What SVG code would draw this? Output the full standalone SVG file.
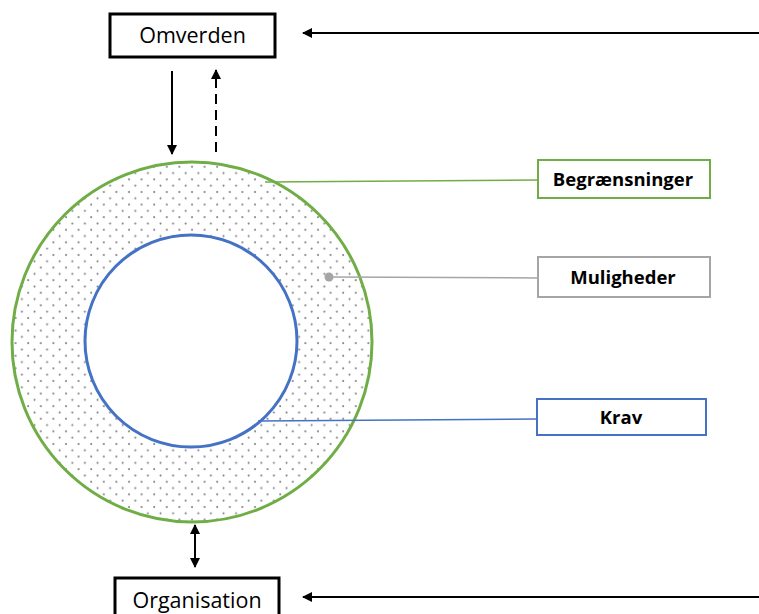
<svg xmlns="http://www.w3.org/2000/svg" width="759" height="614" viewBox="0 0 759 614">
<style>
.box{fill:#fff;stroke:#000;stroke-width:3}
.t{font-family:"Open Sans","Liberation Sans",sans-serif;font-size:21.5px;fill:#000;text-anchor:middle}
.b{font-family:"Open Sans","Liberation Sans",sans-serif;font-size:18.5px;font-weight:bold;fill:#000;text-anchor:middle}
.ln{stroke:#000;stroke-width:2;fill:none}
</style>
<defs>
<marker id="ah" viewBox="0 0 10 10" refX="9" refY="5" markerWidth="5" markerHeight="5" orient="auto-start-reverse" markerUnits="strokeWidth">
<path d="M0,0 L10,5 L0,10 z" fill="#000"/>
</marker>
<pattern id="dots" width="12.6" height="12.6" patternUnits="userSpaceOnUse">
<circle cx="3" cy="3" r="1" fill="#7a7a7a"/>
<circle cx="9.3" cy="9.3" r="1" fill="#7a7a7a"/>
</pattern>
</defs>
<g id="ring">
<circle cx="192" cy="342" r="180" fill="url(#dots)" stroke="#70AD47" stroke-width="3"/>
<circle cx="191" cy="341" r="106" fill="#fff" stroke="#4472C4" stroke-width="3"/>
</g>
<g id="connectors">
<line class="ln" x1="172" y1="71" x2="172" y2="154" marker-end="url(#ah)"/>
<line class="ln" x1="216" y1="152" x2="216" y2="70" stroke-dasharray="10,6" marker-end="url(#ah)"/>
<line class="ln" x1="195" y1="525" x2="195" y2="567" marker-start="url(#ah)" marker-end="url(#ah)"/>
<line class="ln" x1="759" y1="33" x2="303" y2="33" marker-end="url(#ah)"/>
<line class="ln" x1="759" y1="597" x2="303" y2="597" marker-end="url(#ah)"/>
<line x1="538" y1="180" x2="265" y2="182" stroke="#70AD47" stroke-width="1.5"/>
<line x1="538" y1="278" x2="329" y2="277" stroke="#A5A5A5" stroke-width="1.5"/>
<circle cx="329" cy="277" r="4.5" fill="#A5A5A5"/>
<line x1="537" y1="419" x2="258" y2="421" stroke="#4472C4" stroke-width="1.5"/>
</g>
<g id="omverden">
<rect class="box" x="110" y="14" width="165" height="43"/>
<text class="t" x="192.5" y="43">Omverden</text>
</g>
<g id="organisation">
<rect class="box" x="115" y="578" width="164" height="50"/>
<text class="t" x="197" y="608">Organisation</text>
</g>
<g id="begraensninger">
<rect x="538" y="160" width="172" height="38" fill="#fff" stroke="#70AD47" stroke-width="2"/>
<text class="b" x="623" y="186">Begrænsninger</text>
</g>
<g id="muligheder">
<rect x="538" y="257" width="172" height="40" fill="#fff" stroke="#A5A5A5" stroke-width="2"/>
<text class="b" x="623" y="284">Muligheder</text>
</g>
<g id="krav">
<rect x="537" y="399" width="169" height="36" fill="#fff" stroke="#4472C4" stroke-width="2"/>
<text class="b" x="621" y="424">Krav</text>
</g>
</svg>
